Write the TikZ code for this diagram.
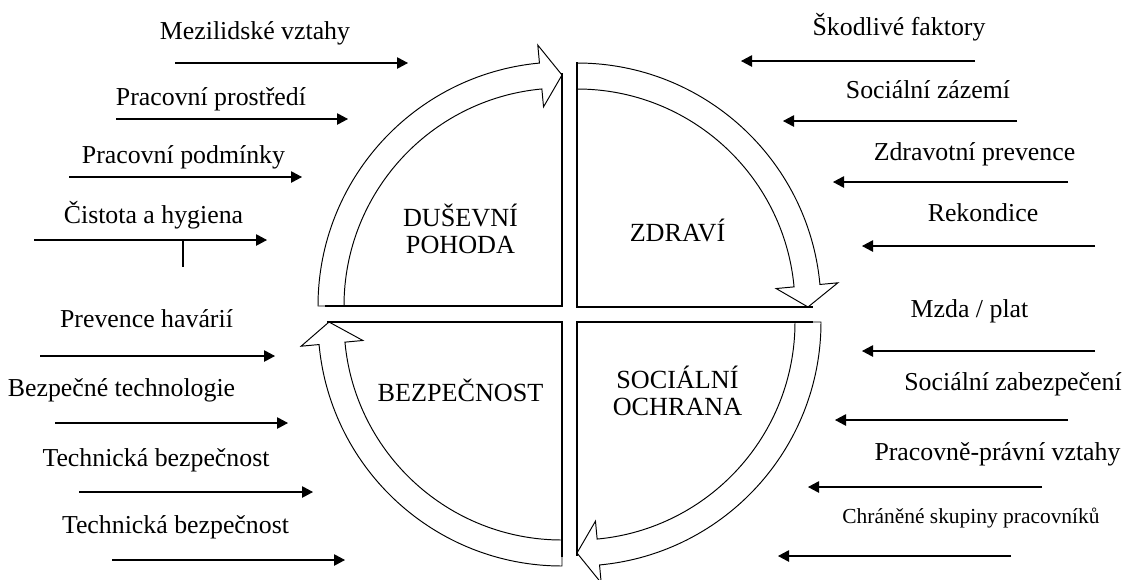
\documentclass[tikz,border=0pt]{standalone}
\usepackage{fontspec}
\setmainfont{Liberation Serif}
\usetikzlibrary{arrows.meta}

\tikzset{
  factor/.style={anchor=base, inner sep=0pt, font=\fontsize{14.7}{17}\selectfont},
  smallfactor/.style={factor, font=\fontsize{12.2}{14}\selectfont},
  quadlabel/.style={anchor=base, align=center, inner sep=0pt, font=\fontsize{14.9}{15.3}\selectfont},
  influence/.style={-{Triangle[length=0.22cm,width=0.23cm]}, line width=0.6pt},
  band/.style={line width=0.55pt, fill=white},
  edge/.style={line width=1.6pt},
}

\begin{document}
\begin{tikzpicture}[x=0.02cm, y=0.02cm]
  \useasboundingbox (0,0) rectangle (1123,-579);

  % top left quadrant
  \begin{scope}[shift={(562,-306)}]
    \draw[band] (180:244) arc[start angle=180, end angle=95.3, radius=244] -- (95.3:262) -- (90:231) -- (95.3:200) -- (95.3:218) arc[start angle=95.3, end angle=180, radius=218] -- cycle;
    \draw[edge] (180:237) -- (0,0) -- (90:233);
  \end{scope}
  % top right quadrant
  \begin{scope}[shift={(577,-307)}]
    \draw[band] (90:244) arc[start angle=90, end angle=5.3, radius=244] -- (5.3:262) -- (0:231) -- (5.3:200) -- (5.3:218) arc[start angle=5.3, end angle=90, radius=218] -- cycle;
    \draw[edge] (90:245) -- (0,0) -- (0:236);
  \end{scope}
  % bottom right quadrant
  \begin{scope}[shift={(577,-322)}]
    \draw[band] (0:244) arc[start angle=0, end angle=-84.7, radius=244] -- (-84.7:262) -- (-90:231) -- (-84.7:200) -- (-84.7:218) arc[start angle=-84.7, end angle=0, radius=218] -- cycle;
    \draw[edge] (0:236) -- (0,0) -- (-90:234);
  \end{scope}
  % bottom left quadrant
  \begin{scope}[shift={(562,-322)}]
    \draw[band] (270:244) arc[start angle=270, end angle=185.3, radius=244] -- (185.3:262) -- (180:233) -- (185.3:200) -- (185.3:218) arc[start angle=185.3, end angle=270, radius=218] -- cycle;
    \draw[edge] (270:235) -- (0,0) -- (180:235);
  \end{scope}

  \node[quadlabel] (dusevni) at (460.5,-253) {DUŠEVNÍ\\POHODA};
  \node[quadlabel] (zdravi) at (677.5,-241) {ZDRAVÍ};
  \node[quadlabel] (bezpecnost) at (460.5,-401) {BEZPEČNOST};
  \node[quadlabel] (socialni) at (677.5,-415) {SOCIÁLNÍ\\OCHRANA};

  % left factors
  \node[factor] (mezil) at (255,-39) {Mezilidské vztahy};
  \coordinate (mezil-s) at (175,-63); \coordinate (mezil-e) at (408,-63);
  \draw[influence] (mezil-s) -- (mezil-e);
  \node[factor] (prostr) at (211,-105) {Pracovní prostředí};
  \coordinate (prostr-s) at (116,-119); \coordinate (prostr-e) at (348,-119);
  \draw[influence] (prostr-s) -- (prostr-e);
  \node[factor] (podm) at (183.5,-163) {Pracovní podmínky};
  \coordinate (podm-s) at (69,-177); \coordinate (podm-e) at (302,-177);
  \draw[influence] (podm-s) -- (podm-e);
  \node[factor] (cistota) at (153.5,-223) {Čistota a hygiena};
  \coordinate (cistota-s) at (34,-240); \coordinate (cistota-e) at (267,-240);
  \draw[influence] (cistota-s) -- (cistota-e);
  \draw[line width=0.6pt] (183,-240) -- (183,-267);
  \node[factor] (havarie) at (146.5,-327) {Prevence havárií};
  \coordinate (havarie-s) at (40,-356); \coordinate (havarie-e) at (275,-356);
  \draw[influence] (havarie-s) -- (havarie-e);
  \node[factor] (bezptech) at (121.5,-396) {Bezpečné technologie};
  \coordinate (bezptech-s) at (55,-423); \coordinate (bezptech-e) at (288,-423);
  \draw[influence] (bezptech-s) -- (bezptech-e);
  \node[factor] (techbez1) at (156,-466) {Technická bezpečnost};
  \coordinate (techbez1-s) at (79,-492); \coordinate (techbez1-e) at (313,-492);
  \draw[influence] (techbez1-s) -- (techbez1-e);
  \node[factor] (techbez2) at (175.5,-533) {Technická bezpečnost};
  \coordinate (techbez2-s) at (112,-560); \coordinate (techbez2-e) at (345,-560);
  \draw[influence] (techbez2-s) -- (techbez2-e);

  % right factors
  \node[factor] (skodl) at (899,-35) {Škodlivé faktory};
  \coordinate (skodl-s) at (975,-61); \coordinate (skodl-e) at (741,-61);
  \draw[influence] (skodl-s) -- (skodl-e);
  \node[factor] (zazemi) at (928,-98) {Sociální zázemí};
  \coordinate (zazemi-s) at (1017,-121); \coordinate (zazemi-e) at (783,-121);
  \draw[influence] (zazemi-s) -- (zazemi-e);
  \node[factor] (zdrprev) at (974.5,-160) {Zdravotní prevence};
  \coordinate (zdrprev-s) at (1068,-182); \coordinate (zdrprev-e) at (833,-182);
  \draw[influence] (zdrprev-s) -- (zdrprev-e);
  \node[factor] (rekond) at (983,-221) {Rekondice};
  \coordinate (rekond-s) at (1095,-246); \coordinate (rekond-e) at (862,-246);
  \draw[influence] (rekond-s) -- (rekond-e);
  \node[factor] (mzda) at (969.5,-317) {Mzda / plat};
  \coordinate (mzda-s) at (1095,-351); \coordinate (mzda-e) at (862,-351);
  \draw[influence] (mzda-s) -- (mzda-e);
  \node[factor] (zabezp) at (1013,-390) {Sociální zabezpečení};
  \coordinate (zabezp-s) at (1068,-420); \coordinate (zabezp-e) at (835,-420);
  \draw[influence] (zabezp-s) -- (zabezp-e);
  \node[factor] (pravni) at (997.5,-460) {Pracovně-právní vztahy};
  \coordinate (pravni-s) at (1042,-487); \coordinate (pravni-e) at (808,-487);
  \draw[influence] (pravni-s) -- (pravni-e);
  \node[smallfactor] (chranene) at (971,-523) {Chráněné skupiny pracovníků};
  \coordinate (chranene-s) at (1011,-556); \coordinate (chranene-e) at (778,-556);
  \draw[influence] (chranene-s) -- (chranene-e);
\end{tikzpicture}
\end{document}
